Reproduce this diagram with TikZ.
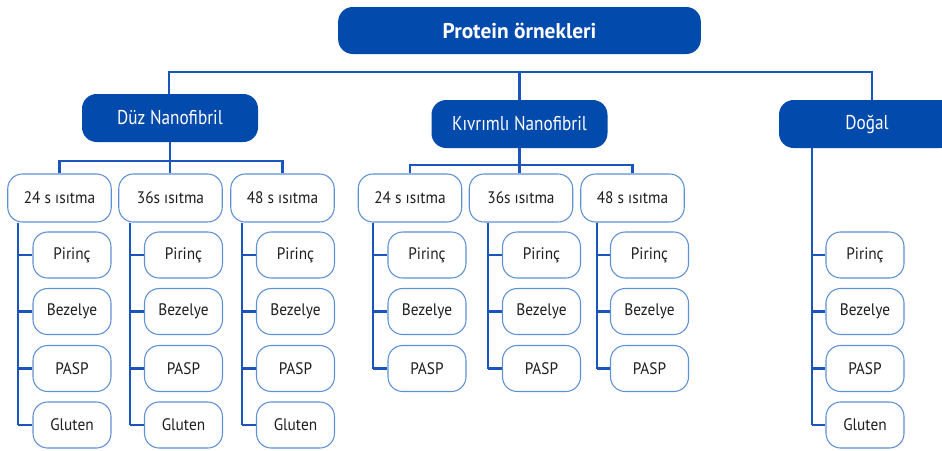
\documentclass[tikz,border=0pt]{standalone}
\usepackage{fontspec}
\setmainfont{PT Sans}
\newfontfamily\headfont[FakeStretch=0.86]{PT Sans}
\newfontfamily\leaffont[FakeStretch=0.92]{PT Sans}
\definecolor{boxblue}{HTML}{034AAD}
\definecolor{lineblue}{HTML}{1A55BD}
\definecolor{leafedge}{HTML}{5E90D6}
\definecolor{leaftext}{HTML}{1E1E1E}
\begin{document}
\begin{tikzpicture}[x=0.75pt,y=-0.75pt,
  conn/.style={draw=lineblue,line width=1.6pt},
  headbox/.style={rectangle,rounded corners=11pt,fill=boxblue,text=white,inner sep=0pt,
    minimum width=132pt,minimum height=36pt,font=\headfont\fontsize{15}{18}\selectfont},
  topbox/.style={headbox,minimum width=272pt,minimum height=35.25pt,font=\bfseries\fontsize{16}{19}\selectfont},
  leafbox/.style={rectangle,rounded corners=11pt,draw=leafedge,line width=0.8pt,fill=white,inner sep=0pt,
    text=leaftext,minimum width=58.5pt,minimum height=34.5pt,font=\leaffont\fontsize{12.5}{15}\selectfont},
  midbox/.style={leafbox,minimum width=77.6pt,minimum height=36pt}
]
\useasboundingbox (0,0) rectangle (942,450);
% top
\node[topbox] (top) at (519.5,30.5) {Protein örnekleri};
% level 1
\node[headbox] (duz) at (170,118) {Düz Nanofibril};
\node[headbox] (kiv) at (519.5,124) {Kıvrımlı Nanofibril};
\node[headbox] (dog) at (867,124) {Doğal};
% bus
\coordinate (busL) at (169,72);
\coordinate (busR) at (872,72);
\draw[conn] (duz.north -| busL) -- (busL) -- (busR) -- (busR |- dog.north);
\draw[conn] (kiv.north) -- (kiv.north |- busL);
% level 2
\node[midbox] (d24) at (59.5,198) {24 s ısıtma};
\node[midbox] (d36) at (170.5,198) {36s ısıtma};
\node[midbox] (d48) at (282.5,198) {48 s ısıtma};
\node[midbox] (k24) at (410,198) {24 s ısıtma};
\node[midbox] (k36) at (521,198) {36s ısıtma};
\node[midbox] (k48) at (632.5,198) {48 s ısıtma};
\coordinate (dj) at (170,161);
\coordinate (kj) at (521,165);
\draw[conn] (d24.north) |- (dj) -| (d48.north);
\draw[conn] (duz.south) -- (duz.south |- d36.north);
\draw[conn] (k24.north) |- (kj) -| (k48.north);
\draw[conn] (kiv.south) -- (kiv.south |- k36.north);
% leaves
\foreach \cx/\vx/\n/\pa/\k in {72/18/a/d24/4, 183.5/130/b/d36/4, 295.5/242/c/d48/4,
    427/373/d/k24/3, 541.5/488/e/k36/3, 649.5/597/f/k48/3, 865/812/g/dog/4}{
  \coordinate (top\n) at (\vx,0);
  \foreach \t/\yy [count=\i] in {Pirinç/255, Bezelye/311.5, PASP/368.5, Gluten/425}{
    \ifnum\i>\k\relax\else
      \node[leafbox] (\n\i) at (\cx,\yy) {\t};
      \draw[conn] (top\n |- \n\i.west) -- (\n\i.west);
    \fi
  }
  \draw[conn] (top\n |- \pa.south) -- (top\n |- \n\k.west);
}
\end{tikzpicture}
\end{document}
